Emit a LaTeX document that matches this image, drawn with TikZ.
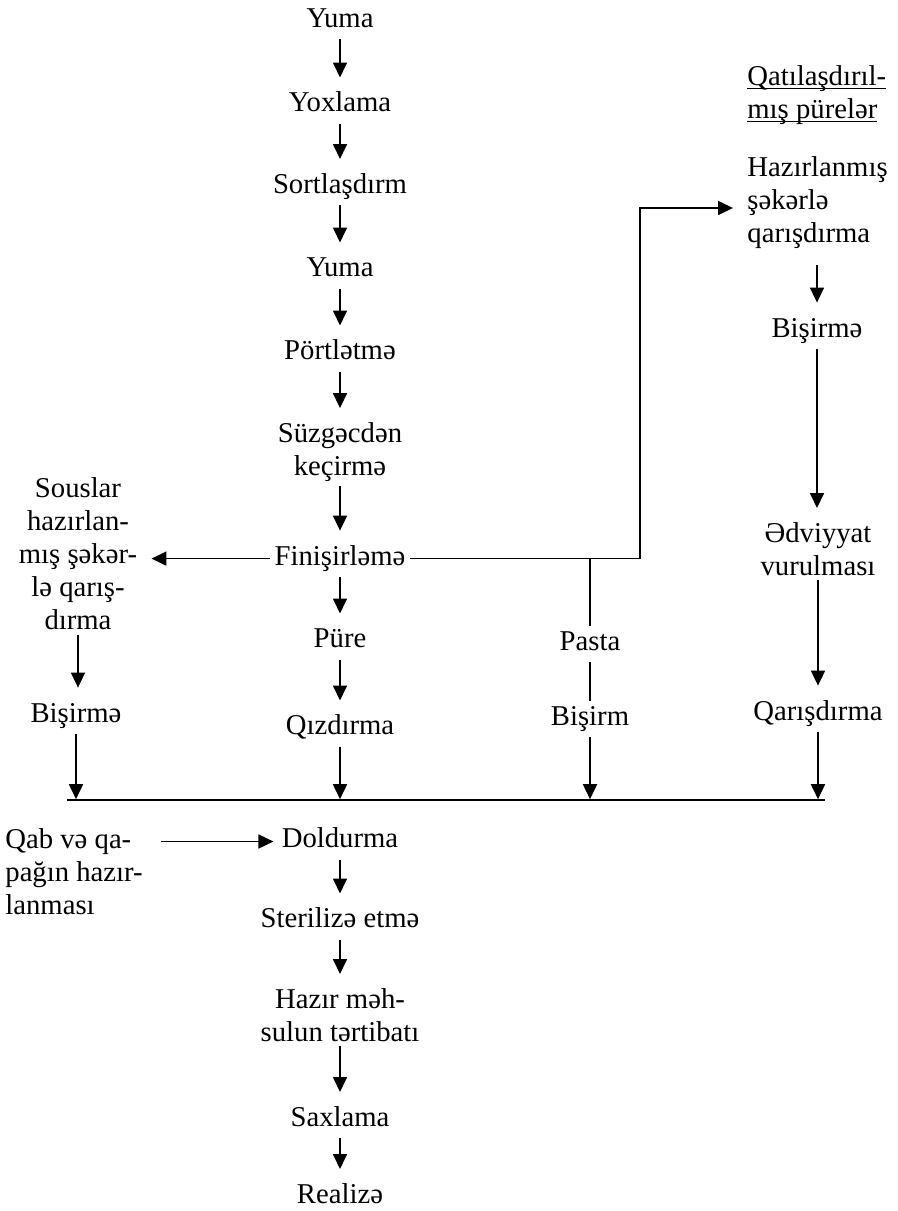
\documentclass[tikz,border=0pt]{standalone}
\usepackage{fontspec}
\setmainfont{Liberation Serif}
\usetikzlibrary{arrows.meta}
\newsavebox{\ulbox}
\newcommand{\ulin}[1]{\sbox{\ulbox}{#1}\rlap{\rule[-2pt]{\wd\ulbox}{0.9pt}}\usebox{\ulbox}}

\begin{document}
\begin{tikzpicture}[x=0.5pt, y=-0.5pt,
  stage/.style={font=\fontsize{14.35}{16.5}\selectfont, text height=10pt, text depth=3.6pt, inner sep=2pt},
  stages/.style={font=\fontsize{14.35}{16.5}\selectfont, align=center, inner sep=2pt},
  arr/.style={-{Triangle[length=7.5pt,width=7pt]}, line width=0.85pt, shorten >=5pt},
  tobus/.style={arr, shorten >=0.4pt},
  ln/.style={line width=0.85pt}
]
\useasboundingbox (0,0) rectangle (898,1211);
% Esas xett
\node[stage] (yu1) at (340,21) {Yuma};
\node[stage] (yox) at (340,105.5) {Yoxlama};
\node[stage] (sort) at (340,187) {Sortlaşdırm};
\node[stage] (yu2) at (340,270.5) {Yuma};
\node[stage] (port) at (340,353.5) {Pörtlətmə};
\node[stages] (suz) at (340,452) {Süzgəcdən\\keçirmə};
\node[stage] (fin) at (340,558.6) {Finişirləmə};
\node[stage] (pure) at (340,641.5) {Püre};
\node[stage] (qiz) at (340,728.5) {Qızdırma};
\node[stage] (dol) at (340,841.5) {Doldurma};
\node[stage] (ster) at (340,921.5) {Sterilizə etmə};
\node[stages] (haz) at (340,1015) {Hazır məh-\\sulun tərtibatı};
\node[stage] (sax) at (340,1120) {Saxlama};
\node[stage] (real) at (340,1197) {Realizə};
% Souslar
\node[stages] (sou) at (78,554) {Souslar\\hazırlan-\\mış şəkər-\\lə qarış-\\dırma};
\node[stage] (bis1) at (76,715.6) {Bişirmə};
\node[stages, align=left, anchor=north west] (qab) at (1,824.4) {Qab və qa-\\pağın hazır-\\lanması};
% Pasta
\node[stage] (pa) at (590,643.6) {Pasta};
\node[stage] (bm) at (590,718.6) {Bişirm};
% Qatilasdirilmis pureler
\node[stages, align=left, anchor=north west] (qat) at (743,61) {\ulin{Qatılaşdırıl-}\\\ulin{mış pürelər}};
\node[stages, align=left, anchor=north west] (hz) at (743,152) {Hazırlanmış\\şəkərlə\\qarışdırma};
\node[stage] (bs2) at (817,330.6) {Bişirmə};
\node[stages] (ed) at (818,549) {Ədviyyat\\vurulması};
\node[stage] (qar) at (818,713.6) {Qarışdırma};

\coordinate (busl) at (67,800);
\coordinate (busr) at (825,800);
\coordinate (br) at (640,208);

\draw[ln] (busl) -- (busr);
\foreach \a/\b in {yu1/yox, yox/sort, sort/yu2, yu2/port, port/suz, suz/fin, fin/pure, pure/qiz,
  dol/ster, ster/haz, haz/sax, sax/real, sou/bis1, bs2/ed, ed/qar}
  \draw[arr] (\a.south) -- (\a.south |- \b.north);
\foreach \n in {bis1, qiz, bm, qar}
  \draw[tobus] (\n.south) -- (\n.south |- busl);
\draw[arr] (fin.west) -- (fin.west -| sou.east);
\draw[arr] (fin.east) -| (br) -- (br -| hz.west);
\draw[ln] (pa.north |- fin.east) -- (pa.north);
\draw[ln] (pa.south) -- (bm.north);
\draw[arr] ([yshift=-6pt]hz.south -| bs2.north) -- (bs2.north);
\draw[arr, shorten >=2pt] ([xshift=7pt]qab.east |- dol.west) -- (dol.west);
\end{tikzpicture}
\end{document}
